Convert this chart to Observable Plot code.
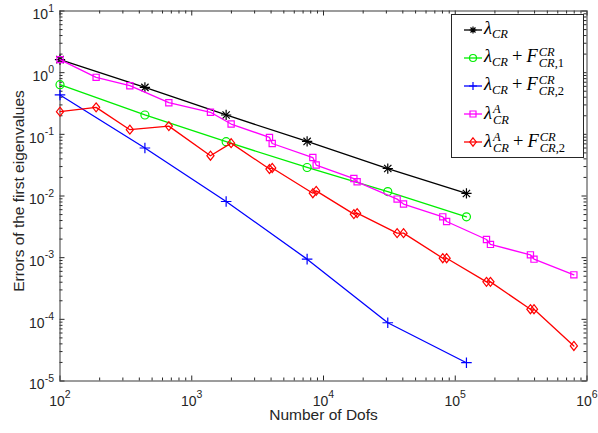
<!DOCTYPE html>
<html><head><meta charset="utf-8">
<script src="https://cdn.jsdelivr.net/npm/d3@7"></script>
<script src="https://cdn.jsdelivr.net/npm/@observablehq/plot@0.6"></script>
<style>
body{margin:0;background:#fff;}
#wrap{position:relative;width:598px;height:433px;font-family:"Liberation Sans",Arial,sans-serif;}
#legend{position:absolute;left:451px;top:14px;width:133px;height:144px;border:1px solid #262626;background:#fff;box-sizing:border-box;padding-top:1px;}
.row{display:flex;align-items:center;height:27.9px;}
.row svg{margin-left:12px;margin-right:2px;flex:none;}
.m{font-family:"Liberation Serif","Times New Roman",serif;font-size:18.5px;line-height:18px;color:#000;white-space:nowrap;position:relative;top:1px;}
.m i{font-style:italic;}
.m .sb1{font-size:12.5px;font-style:italic;vertical-align:-4px;}
.m .op{margin:0 4px;}
.ss{display:inline-flex;flex-direction:column;vertical-align:6px;font-size:12.5px;line-height:11px;margin-left:1px;}
.ss span{font-style:italic;}
.up{font-style:normal !important;}
</style>
</head><body>
<div id="wrap"></div>
<script>
// ---- data ----
const dofsCR  = [100, 441, 1824, 7510, 30750, 121600];
const errCR   = [1.63, 0.577, 0.206, 0.0767, 0.0279, 0.0110];
const errCR_F1 = [0.638, 0.206, 0.076, 0.0290, 0.0118, 0.00459];
const errCR_F2 = [0.435, 0.060, 0.00815, 0.000946, 0.000088, 0.0000198];
const dofsA   = [100, 188, 339, 670, 1387, 1990, 3890, 4080, 8300, 8800, 17000, 18000, 36200, 40500, 80400, 86000, 172600, 185000, 372000, 396000, 795000];
const errA    = [1.63, 0.84, 0.615, 0.326, 0.228, 0.147, 0.089, 0.071, 0.042, 0.0318, 0.0192, 0.0170, 0.0089, 0.0074, 0.00459, 0.00386, 0.00197, 0.00164, 0.00111, 0.000946, 0.000526];
const errA_F2 = [0.233, 0.274, 0.119, 0.136, 0.0450, 0.072, 0.0274, 0.0285, 0.0111, 0.0121, 0.00508, 0.00527, 0.00250, 0.00250, 0.00098, 0.00098, 0.000405, 0.000405, 0.000146, 0.000146, 0.000037];
const xMajor = [1e2, 1e3, 1e4, 1e5, 1e6];
const yMajor = [1e-5, 1e-4, 1e-3, 1e-2, 1e-1, 1e0, 1e1];
const xLabel = "Number of Dofs";
const yLabel = "Errors of the first eigenvalues";

const minorOf = (majors) => majors.slice(0, -1).flatMap(m => [2,3,4,5,6,7,8,9].map(k => k * m));
const xMinor = minorOf(xMajor);
const yMinor = minorOf(yMajor);

const W = 598, H = 433, mL = 59.5, mR = 11.5, mT = 10.5, mB = 52.5;
const plotW = W - mL - mR, plotH = H - mT - mB;
const ax = "#262626";

// MATLAB-like diamond marker (slightly taller than wide)
const rhombus = {draw(ctx, size) {
  const h = Math.sqrt(size / 1.6), w = h * 0.8;
  ctx.moveTo(0, -h); ctx.lineTo(w, 0); ctx.lineTo(0, h); ctx.lineTo(-w, 0); ctx.closePath();
}};

const tbl = (xs, ys) => xs.map((x, i) => ({x, y: ys[i]}));
const series = [
  {data: tbl(dofsCR, errCR), color: "#000000", symbols: ["plus", "times"], r: 3.4},
  {data: tbl(dofsCR, errCR_F1), color: "#00ee00", symbols: ["circle"], r: 4},
  {data: tbl(dofsCR, errCR_F2), color: "#0000ff", symbols: ["plus"], r: 3.5},
  {data: tbl(dofsA, errA), color: "#ff00ff", symbols: ["square"], r: 3.5},
  {data: tbl(dofsA, errA_F2), color: "#ff0000", symbols: [rhombus], r: 3.2}
];

const fmt = d => "10^" + Math.round(Math.log10(d));

const marks = [
  Plot.ruleX(xMajor, {stroke: ax, strokeWidth: 1, insetTop: plotH - 5}),
  Plot.ruleX(xMajor, {stroke: ax, strokeWidth: 1, insetBottom: plotH - 5}),
  Plot.ruleX(xMinor, {stroke: ax, strokeWidth: 1, insetTop: plotH - 3}),
  Plot.ruleX(xMinor, {stroke: ax, strokeWidth: 1, insetBottom: plotH - 3}),
  Plot.ruleY(yMajor, {stroke: ax, strokeWidth: 1, insetRight: plotW - 5}),
  Plot.ruleY(yMajor, {stroke: ax, strokeWidth: 1, insetLeft: plotW - 5}),
  Plot.ruleY(yMinor, {stroke: ax, strokeWidth: 1, insetRight: plotW - 3}),
  Plot.ruleY(yMinor, {stroke: ax, strokeWidth: 1, insetLeft: plotW - 3}),
  Plot.frame({stroke: "#3a3a3a", strokeWidth: 1}),
  Plot.axisX(xMajor, {anchor: "bottom", tickSize: 0, tickPadding: 15, tickFormat: fmt, label: null, fill: ax}),
  Plot.axisY(yMajor, {anchor: "left", tickSize: 0, tickPadding: 6, tickFormat: fmt, label: null, fill: ax, dy: 3.7}),
  Plot.text([xLabel], {frameAnchor: "bottom", dy: 39, text: d => d, fontSize: 15.5, fill: ax}),
  Plot.text([yLabel], {frameAnchor: "left", textAnchor: "middle", dx: -40.5, dy: -5, rotate: -90, text: d => d, fontSize: 15.5, fill: ax})
];
for (const s of series) {
  marks.push(Plot.line(s.data, {x: "x", y: "y", stroke: s.color, strokeWidth: 1.3}));
  for (const sym of s.symbols) {
    marks.push(Plot.dot(s.data, {x: "x", y: "y", stroke: s.color, symbol: sym, r: s.r, strokeWidth: 1.2, fill: "none"}));
  }
}

const chart = Plot.plot({
  width: W, height: H,
  marginLeft: mL, marginRight: mR, marginTop: mT, marginBottom: mB,
  x: {type: "log", domain: [1e2, 1e6]},
  y: {type: "log", domain: [1e-5, 1e1]},
  style: {fontFamily: '"Liberation Sans", Arial, sans-serif', fontSize: "14px", background: "#fff"},
  marks
});

// superscript exponents in tick labels
const NS = "http://www.w3.org/2000/svg";
chart.querySelectorAll('[aria-label="x-axis tick label"] text, [aria-label="y-axis tick label"] text').forEach(t => {
  const parts = t.textContent.split("^");
  if (parts.length !== 2) return;
  t.textContent = "";
  const a = document.createElementNS(NS, "tspan"); a.textContent = parts[0];
  const b = document.createElementNS(NS, "tspan"); b.textContent = parts[1];
  b.setAttribute("dy", "-7.5"); b.setAttribute("font-size", "10.5");
  t.appendChild(a); t.appendChild(b);
});

const wrap = document.getElementById("wrap");
wrap.appendChild(chart);

// legend
const legendItems = [
  {color: "#000000", sym: "star", html: '<i>λ</i><span class="sb1">CR</span>'},
  {color: "#00ee00", sym: "circle", html: '<i>λ</i><span class="sb1">CR</span><span class="op">+</span><i>F</i><span class="ss"><span>CR</span><span>CR<span class="up">,1</span></span></span>'},
  {color: "#0000ff", sym: "plus", html: '<i>λ</i><span class="sb1">CR</span><span class="op">+</span><i>F</i><span class="ss"><span>CR</span><span>CR<span class="up">,2</span></span></span>'},
  {color: "#ff00ff", sym: "square", html: '<i>λ</i><span class="ss"><span>A</span><span>CR</span></span>'},
  {color: "#ff0000", sym: "diamond", html: '<i>λ</i><span class="ss"><span>A</span><span>CR</span></span><span class="op">+</span><i>F</i><span class="ss"><span>CR</span><span>CR<span class="up">,2</span></span></span>'}
];
const symPath = {
  star: "M-3.5,0H3.5M0,-3.5V3.5M-2.5,-2.5L2.5,2.5M-2.5,2.5L2.5,-2.5",
  circle: "M3.5,0A3.5,3.5 0 1,1 -3.5,0A3.5,3.5 0 1,1 3.5,0",
  plus: "M-4,0H4M0,-4V4",
  square: "M-3,-3H3V3H-3Z",
  diamond: "M0,-4.2L3.3,0L0,4.2L-3.3,0Z"
};
const leg = document.createElement("div");
leg.id = "legend";
leg.innerHTML = legendItems.map(it =>
  `<div class="row"><svg width="18" height="12" viewBox="0 0 18 12"><line x1="0" y1="6" x2="18" y2="6" stroke="${it.color}" stroke-width="1.3"/><path transform="translate(9,6)" d="${symPath[it.sym]}" fill="${it.sym === 'star' ? it.color : 'none'}" stroke="${it.color}" stroke-width="1.2"/></svg><span class="m">${it.html}</span></div>`
).join("");
wrap.appendChild(leg);
</script>
</body></html>
